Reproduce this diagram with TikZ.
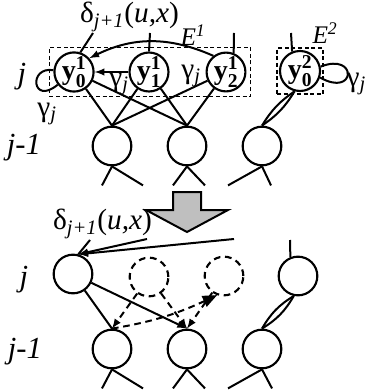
\documentclass[tikz,border=0pt]{standalone}
\usepackage{amsmath}
\usepackage{fontspec}
\setmainfont{Liberation Serif}
\usetikzlibrary{arrows}
\usetikzlibrary{fit}

\begin{document}
\begin{tikzpicture}[x=0.75pt, y=-0.75pt, line width=1.5pt, >=latex,
  unit/.style={circle, draw, line width=1.6pt, minimum size=29pt, inner sep=0pt},
  ghost/.style={unit, dash pattern=on 5pt off 3.5pt},
  ebox/.style={draw, line width=1.2pt, dash pattern=on 3pt off 2pt, inner sep=3pt},
  dline/.style={dash pattern=on 5pt off 3.5pt},
  lbl/.style={font=\fontsize{22}{24}\selectfont, inner sep=0pt},
  side/.style={font=\fontsize{23}{25}\selectfont\itshape},
  ytxt/.style={font=\fontsize{21}{23}\selectfont}]

\useasboundingbox (0,0) rectangle (368,391);

%---------------------------------------
% Level j before reduction
%---------------------------------------
\node[side] (jt)  at (22,77)  {j};
\node[side] (jmt) at (24,148) {j-1};

\node[unit, ytxt, minimum size=27pt] (ya) at (74,72)  {$\textbf{y}^{\textbf{1}}_{\textbf{0}}$};
\node[unit, ytxt, minimum size=28pt] (yb) at (149,72) {$\textbf{y}^{\textbf{1}}_{\textbf{1}}$};
\node[unit, ytxt, minimum size=28pt] (yc) at (226,72) {$\textbf{y}^{\textbf{1}}_{\textbf{2}}$};
\node[unit, ytxt, minimum size=30pt] (yd) at (300,71) {$\textbf{y}^{\textbf{2}}_{\textbf{0}}$};

% equivalence classes
\node[ebox, fit=(ya)(yc)] (E1) {};
\node[ebox, fit=(yd), inner sep=1.5pt] (E2) {};
\node[lbl, font=\fontsize{19}{21}\selectfont] (e1) at (193,35) {\textit{E}\textsuperscript{\textit{1}}};
\node[lbl, font=\fontsize{19}{21}\selectfont] (e2) at (325,33) {\textit{E}\textsuperscript{\textit{2}}};

% labels
\node[lbl, anchor=west] (dt) at (79,17) {δ\textsubscript{\textit{j+1}}(\textit{u,x})};
\node[lbl] (ga) at (47,114) {γ\textsubscript{\textit{j}}};
\node[lbl] (gb) at (119,84) {γ\textsubscript{\textit{j}}};
\node[lbl] (gc) at (191,76) {γ\textsubscript{\textit{j}}};
\node[lbl, anchor=east] (gd) at (367,84) {γ\textsubscript{\textit{j}}};

% arcs into the class
\coordinate (pa) at (93,33);
\coordinate (pb) at (150,33);
\coordinate (pc) at (234,33);
\coordinate (pd) at (291,33);
\draw (ya.72) -- (pa);
\draw (yb.north) -- (pb);
\draw (yc.68) -- (pc);
\draw (yd.112) -- (pd);

\draw[->] (yb) -- (ya);
\draw[->] (yc.128) to[bend right=25] (ya.42);

% self loops
\draw (ya.175) .. controls (28,66) and (32,106) .. (ya.218);
\draw (yd.12) .. controls (358,52) and (356,98) .. (yd.-18);

%---------------------------------------
% Level j-1 before reduction
%---------------------------------------
\node[unit] (ca) at (112,146) {};
\node[unit] (cb) at (187,146) {};
\node[unit] (cc) at (262,146) {};

\foreach \u in {ya,yb,yc} {
  \draw (\u) -- (ca.north);
  \draw (\u) -- (cb.north);
}
\draw (yd.255) to[bend left=12] (cc.north);
\draw (yd.255) to[bend right=12] (cc.north);

%---------------------------------------
% Reduction arrow
%---------------------------------------
\draw[line width=1.5pt, fill=gray!50]
  (173,192) -- (201,192) -- (201,210) -- (228,210)
  -- (187,232) -- (146,210) -- (173,210) -- cycle;

%---------------------------------------
% Level j after reduction
%---------------------------------------
\node[side] (jb)  at (24,280) {j};
\node[side] (jmb) at (25,352) {j-1};
\node[lbl, anchor=west] (db) at (52,224) {δ\textsubscript{\textit{j+1}}(\textit{u,x})};

\node[unit]  (na) at (73,274)  {};
\node[ghost] (nb) at (149,277) {};
\node[ghost] (nc) at (224,276) {};
\node[unit]  (nd) at (298,276) {};

\coordinate (qa) at (147,239);
\coordinate (qb) at (234,239);
\coordinate (qc) at (90,240);
\coordinate (qd) at (290,240);
\draw[->] (qa) -- (na.75);
\draw[->] (qb) -- (na.75);
\draw (na.75) -- (qc);
\draw (nd.112) -- (qd);

%---------------------------------------
% Level j-1 after reduction
%---------------------------------------
\node[unit] (ka) at (112,349) {};
\node[unit] (kb) at (187,349) {};
\node[unit] (kc) at (262,349) {};

\draw (na) -- (ka.north);
\draw[->] (na) -- (kb.north);
\draw[dline, ->] (nb) -- (ka.north);
\draw[dline, ->] (nb) -- (kb.north);
\draw[dline, -triangle 45] (ka.north) to[bend right=8] (nc.250);
\draw[dline, ->] (nc) -- (kb.north);
\draw (nd.258) to[bend left=14] (kc.north);
\draw (nd.258) to[bend right=14] (kc.north);

% legs below level j-1
\foreach \n/\a/\b in {ca/-10/31, cb/-14/18, cc/-34/9,
                      ka/-10/31, kb/-14/18, kc/-34/10} {
  \draw (\n.south) -- ++(\a,19);
  \draw (\n.south) -- ++(\b,19);
}

\end{tikzpicture}
\end{document}
